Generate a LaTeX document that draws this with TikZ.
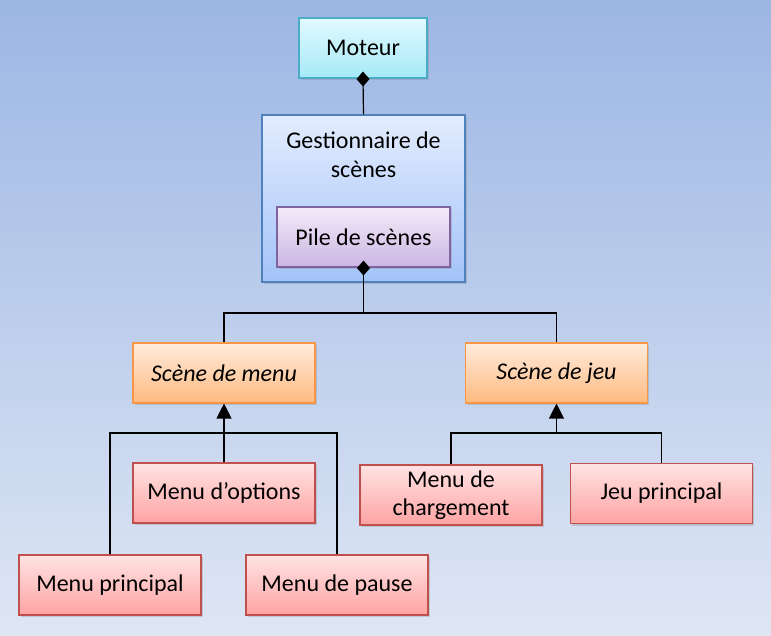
\documentclass[tikz,border=0pt]{standalone}
\usepackage{fontspec}
\setmainfont{Carlito}
\usetikzlibrary{arrows.meta,shadows}
\definecolor{bgT}{HTML}{9CB6E4}
\definecolor{bgB}{HTML}{DEE6F4}
\definecolor{cyT}{HTML}{E2FAFE}
\definecolor{cyB}{HTML}{A6E9F8}
\definecolor{cyD}{HTML}{4BACC6}
\definecolor{blT}{HTML}{E3ECFE}
\definecolor{blB}{HTML}{A3C3F8}
\definecolor{blD}{HTML}{4F81BD}
\definecolor{puT}{HTML}{F3EBF9}
\definecolor{puB}{HTML}{CBB6E2}
\definecolor{puD}{HTML}{8064A2}
\definecolor{orT}{HTML}{FFEBDC}
\definecolor{orB}{HTML}{FFBA80}
\definecolor{orD}{HTML}{F79646}
\definecolor{rdT}{HTML}{FFE3E3}
\definecolor{rdB}{HTML}{FFA3A3}
\definecolor{rdD}{HTML}{C0504D}
\begin{document}
\begin{tikzpicture}[x=1pt,y=1pt,
  box/.style={draw, line width=1.1pt, minimum width=182pt, minimum height=60pt,
    inner sep=2pt, align=center, font=\fontsize{24}{28}\selectfont,
    drop shadow={shadow xshift=1.5pt, shadow yshift=-2pt, opacity=0.3}},
  cybox/.style={box, draw=cyD, top color=cyT, bottom color=cyB},
  blbox/.style={box, draw=blD, top color=blT, bottom color=blB},
  pubox/.style={box, draw=puD, top color=puT, bottom color=puB},
  orbox/.style={box, draw=orD, top color=orT, bottom color=orB, font=\fontsize{24}{28}\selectfont\itshape},
  rdbox/.style={box, draw=rdD, top color=rdT, bottom color=rdB},
  conn/.style={line width=1.2pt, draw=black},
  diam/.style={conn, -{Diamond[length=15pt,width=13pt]}, shorten >=-7pt},
  tri/.style={conn, -{Triangle[length=15pt,width=15pt]}}
]
\shade[top color=bgT, bottom color=bgB] (0,0) rectangle (771,-635);
\useasboundingbox (0,0) rectangle (771,-635);

\node[cybox, minimum width=128pt] (mot) at (363,-48) {Moteur};
\node[blbox, minimum width=203pt, minimum height=167pt] (ges) at (363.5,-198.5) {};
\node[font=\fontsize{24}{29}\selectfont, align=center] (gtitle) at (363.5,-155) {Gestionnaire de\\scènes};
\node[pubox, minimum width=173pt] (pile) at (363.5,-237) {Pile de scènes};

\node[orbox] (smenu) at (224,-373) {Scène de menu};
\node[orbox] (sjeu) at (556.5,-373) {Scène de jeu};

\node[rdbox] (mopt) at (224,-493) {Menu d’options};
\node[rdbox] (mprinc) at (110,-585) {Menu principal};
\node[rdbox] (mpause) at (337,-585) {Menu de pause};
\node[rdbox] (mchar) at (451,-495) {Menu de\\chargement};
\node[rdbox] (jeu) at (661.5,-493.5) {Jeu principal};

\draw[diam] (ges.north) -- (mot.south);
\draw[diam] (ges.south) -- (pile.south);

\coordinate (j1) at (363.5,-313);
\draw[conn] (ges.south) -- (j1) -| (smenu.north);
\draw[conn] (j1) -| (sjeu.north);

\coordinate (b1) at (224,-433);
\draw[tri] (mopt.north) -- (smenu.south);
\draw[conn] (mprinc.north) |- (b1) -| (mpause.north);

\coordinate (b2) at (556.5,-433);
\draw[tri] (b2) -- (sjeu.south);
\draw[conn] (mchar.north) |- (b2) -| (jeu.north);
\end{tikzpicture}
\end{document}
